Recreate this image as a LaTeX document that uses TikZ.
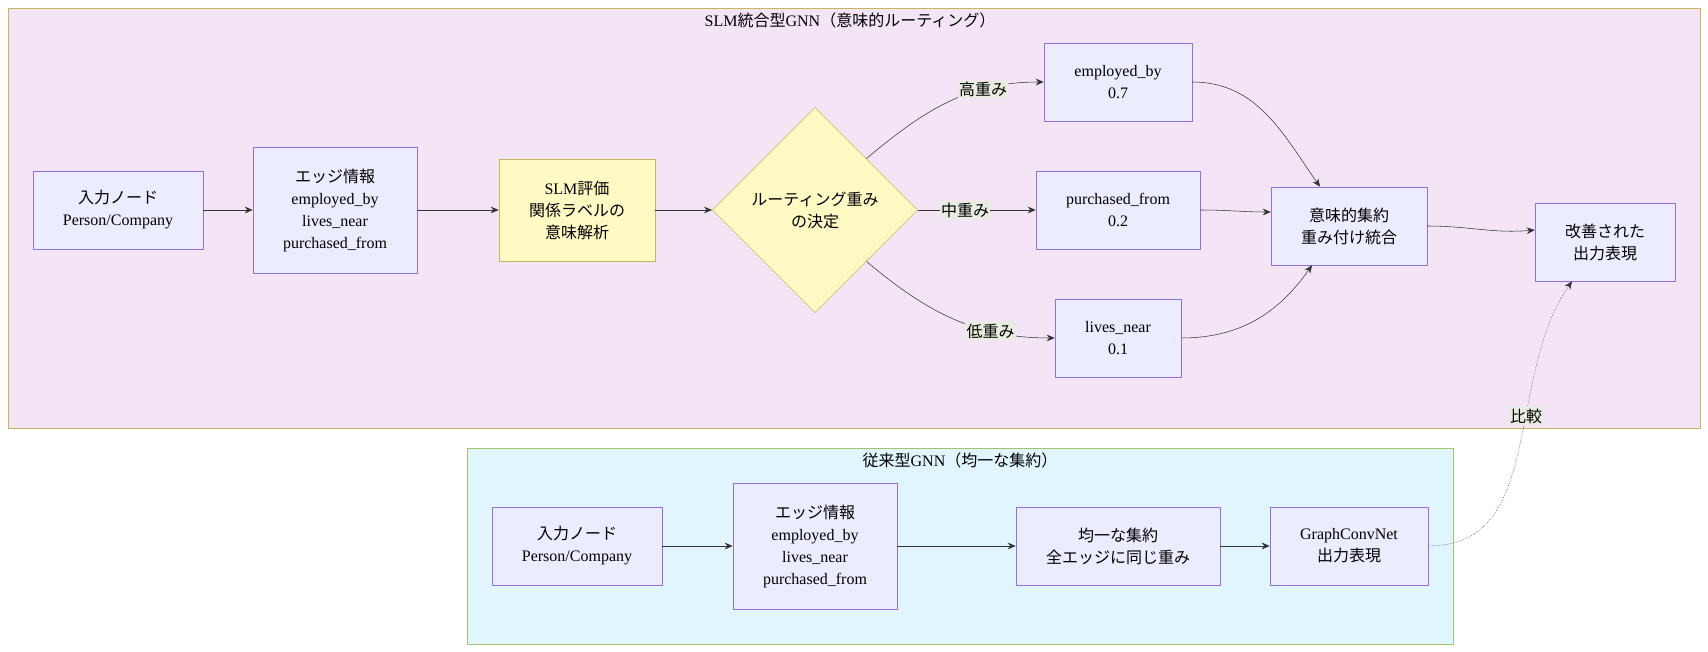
\documentclass[tikz,border=0pt]{standalone}
\usepackage{fontspec}
\setmainfont{Liberation Serif}
\newfontfamily\jp{Noto Sans CJK JP}
\usetikzlibrary{shapes.geometric,calc,arrows.meta}
\definecolor{nodefill}{HTML}{ECECFF}
\definecolor{nodeline}{HTML}{9370DB}
\definecolor{decfill}{HTML}{FFF9C4}
\definecolor{decline}{HTML}{C8B560}
\definecolor{slmfill}{HTML}{F3E5F5}
\definecolor{slmline}{HTML}{C8B560}
\definecolor{gnnfill}{HTML}{E1F5FE}
\definecolor{gnnline}{HTML}{A5C26F}
\definecolor{wire}{HTML}{333333}
\definecolor{labelfill}{HTML}{E8EDE0}
\tikzset{
  box/.style={draw=nodeline,fill=nodefill,align=center,font=\fontsize{12}{16.5}\selectfont,inner sep=0pt},
  slmbox/.style={box,fill=decfill,draw=decline},
  decision/.style={diamond,draw=decline,fill=decfill,align=center,inner sep=0pt,
    minimum width=154pt,minimum height=154pt,font=\fontsize{12}{16.5}\selectfont},
  wirearrow/.style={draw=wire,-{Stealth[length=6pt,width=5pt]}},
  weightlabel/.style={fill=labelfill,inner sep=1pt,font=\fontsize{12}{14}\selectfont\jp},
  grouptitle/.style={font=\fontsize{12}{14}\selectfont}
}
\begin{document}
\begin{tikzpicture}[x=0.75pt,y=-0.75pt]
  \useasboundingbox (0,0) rectangle (1708,652);
  % groups
  \draw[fill=slmfill,draw=slmline] (8,8) rectangle (1700,428);
  \node[grouptitle] (slmtitle) at (850,20) {SLM{\jp 統合型}GNN{\jp （意味的ルーティング）}};
  \draw[fill=gnnfill,draw=gnnline] (467,448) rectangle (1453,644);
  \node[grouptitle] (gnntitle) at (960,460) {{\jp 従来型}GNN{\jp （均一な集約）}};
  % SLM pipeline
  \node[box,minimum width=127.5pt,minimum height=58.5pt] (in1) at (118,210) {{\jp 入力ノード}\\Person/Company};
  \node[box,minimum width=123pt,minimum height=94.5pt] (edge1) at (335,210) {{\jp エッジ情報}\\employed\_by\\lives\_near\\purchased\_from};
  \node[slmbox,minimum width=117pt,minimum height=76.5pt] (slm) at (577,210) {SLM{\jp 評価}\\{\jp 関係ラベルの}\\{\jp 意味解析}};
  \node[decision] (dec) at (815,210) {\jp ルーティング重み\\\jp の決定};
  \node[box,minimum width=111pt,minimum height=58.5pt] (emp) at (1118,82) {employed\_by\\0.7};
  \node[box,minimum width=123pt,minimum height=58.5pt] (pur) at (1118,210) {purchased\_from\\0.2};
  \node[box,minimum width=94.5pt,minimum height=58.5pt] (liv) at (1118,338) {lives\_near\\0.1};
  \node[box,minimum width=117pt,minimum height=58.5pt] (agg) at (1349,226) {\jp 意味的集約\\\jp 重み付け統合};
  \node[box,minimum width=105pt,minimum height=58.5pt] (out) at (1605,242) {\jp 改善された\\\jp 出力表現};
  % baseline pipeline
  \node[box,minimum width=127.5pt,minimum height=58.5pt] (in2) at (577,546) {{\jp 入力ノード}\\Person/Company};
  \node[box,minimum width=123pt,minimum height=94.5pt] (edge2) at (815,546) {{\jp エッジ情報}\\employed\_by\\lives\_near\\purchased\_from};
  \node[box,minimum width=153pt,minimum height=58.5pt] (uni) at (1118,546) {\jp 均一な集約\\\jp 全エッジに同じ重み};
  \node[box,minimum width=118.5pt,minimum height=58.5pt] (gcn) at (1349,546) {GraphConvNet\\{\jp 出力表現}};
  % connectors
  \draw[wirearrow] (in1) -- (edge1);
  \draw[wirearrow] (edge1) -- (slm);
  \draw[wirearrow] (slm) -- (dec);
  \draw[wirearrow] (dec.north east) to[out=40,in=180] node[weightlabel,pos=0.7] {高重み} (emp.west);
  \draw[wirearrow] (dec.east) -- node[weightlabel,pos=0.4] {中重み} (pur.west);
  \draw[wirearrow] (dec.south east) to[out=-40,in=180] node[weightlabel,pos=0.7] {低重み} (liv.west);
  \draw[wirearrow] (emp.east) to[out=0,in=125] ($(agg.north)+(-29,0)$);
  \draw[wirearrow] (pur.east) to[out=0,in=180] ($(agg.west)+(0,-14)$);
  \draw[wirearrow] (liv.east) to[out=0,in=-125] ($(agg.south)+(-37,0)$);
  \draw[wirearrow] (agg.east) to[out=0,in=185] ($(out.west)+(0,-12)$);
  \draw[wirearrow] (in2) -- (edge2);
  \draw[wirearrow] (edge2) -- (uni);
  \draw[wirearrow] (uni) -- (gcn);
  \draw[wirearrow,densely dotted] (gcn.east) to[out=0,in=-125] node[weightlabel,pos=0.6] {比較} ($(out.south)+(-33,0)$);
\end{tikzpicture}
\end{document}
